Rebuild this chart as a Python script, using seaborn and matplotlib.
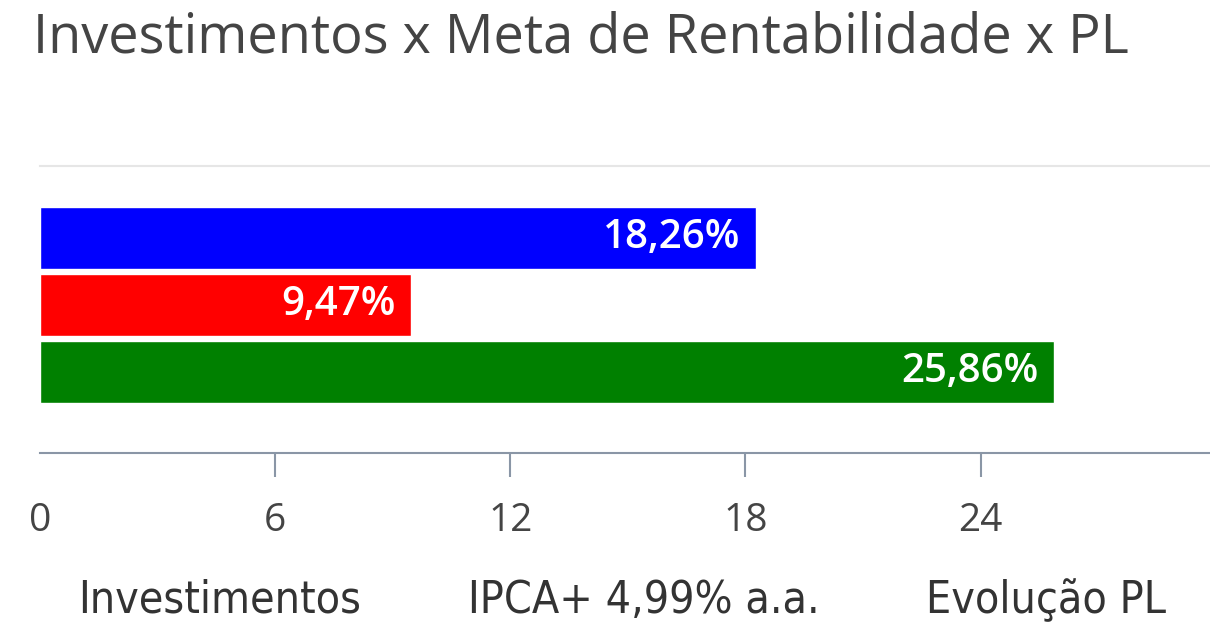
import pandas as pd
import matplotlib.pyplot as plt
import seaborn as sns

# Data
series = ["Investimentos", "IPCA+ 4,99% a.a.", "Evolução PL"]
values = [18.26, 9.47, 25.86]
labels = ["18,26%", "9,47%", "25,86%"]
colors = ["#0000ff", "#ff0000", "#008000"]
ticks = [0, 6, 12, 18, 24]

df = pd.DataFrame({"cat": ["PL"] * 3, "serie": series, "valor": values})

sns.set_style("white")
plt.rcParams["font.family"] = ["Open Sans", "DejaVu Sans"]

fig = plt.figure(figsize=(12.1, 6.37), dpi=100)
ax = fig.add_axes([0.033, 0.289, 0.967, 0.45])

sns.barplot(data=df, y="cat", x="valor", hue="serie", hue_order=series,
            palette=colors, orient="h", width=0.7, gap=0.08,
            saturation=1, legend=False, ax=ax)

ax.set_xlim(0, 29.85)
ax.set_ylim(0.516, -0.484)
ax.set_xticks(ticks)
ax.set_xticklabels([str(t) for t in ticks], fontsize=28, color="#444444")
ax.set_yticks([])
ax.set_xlabel("")
ax.set_ylabel("")

for s in ["left", "right"]:
    ax.spines[s].set_visible(False)
ax.spines["top"].set_color("#e6e6e6")
ax.spines["top"].set_linewidth(1.5)
ax.spines["bottom"].set_color("#8a96a6")
ax.spines["bottom"].set_linewidth(1.5)
ax.tick_params(axis="x", bottom=True, length=17, width=1.5, color="#8a96a6", pad=18)
# no tick mark at zero, only the label
ax.xaxis.get_major_ticks()[0].tick1line.set_visible(False)

# value labels inside the bar ends
for patch, lab in zip(ax.patches, labels):
    ax.annotate(lab, (patch.get_x() + patch.get_width(), patch.get_y() + patch.get_height() / 2),
                xytext=(-11, 0), textcoords="offset points", ha="right", va="center",
                color="white", fontsize=29, fontweight="semibold")

# legend without markers
handles = [plt.Rectangle((0, 0), 0, 0, color="none") for _ in series]
leg = fig.legend(handles, series, loc="center", bbox_to_anchor=(0.514, 0.058), ncol=3,
                 frameon=False, handlelength=0, handletextpad=0, columnspacing=2.4,
                 prop={"family": "DejaVu Sans", "stretch": "condensed", "size": 32})
for t in leg.get_texts():
    t.set_color("#333333")

fig.text(0.027, 0.918, "Investimentos x Meta de Rentabilidade x PL", fontsize=39,
         color="#444444", va="baseline", ha="left")

fig.savefig("out.png", dpi=100)
